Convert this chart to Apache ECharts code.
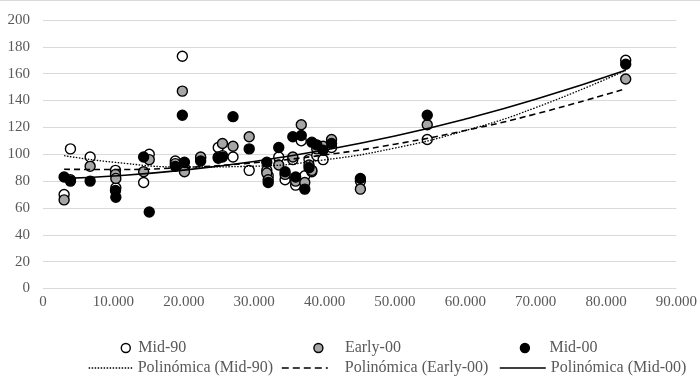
<!DOCTYPE html>
<html>
<head>
<meta charset="utf-8">
<title>Polinómica</title>
<script src="https://cdn.jsdelivr.net/npm/echarts@6/dist/echarts.min.js"></script>
<style>
	html, body { margin: 0; padding: 0; background: #fff; }
	#chart { width: 700px; height: 382px; }
</style>
</head>
<body>
<div id="chart"></div>
<script>
//数据
var xVals = [3000, 3900, 6700, 10300, 10350, 14300, 15100, 18800, 19800, 20100, 22400, 24900, 25500, 27000, 29300, 31800, 32000, 33500, 34400, 35500, 35900, 36700, 37200, 37800, 38200, 38900, 39800, 41000, 45100, 54600, 82800];
var mid90 = [70, 104, 98, 88, 75, 79, 100, 95, 173, 90, 97, 105, 99, 98, 88, 88, 84, 98, 81, 96, 77, 110, 84, 96, 87, 99, 96, 105, 80, 111, 170];
var early00 = [66, 81, 91, 85, 82, 87, 96, 93, 147, 87, 98, 98, 108, 106, 113, 86, 81, 92, 85, 98, 80, 122, 79, 92, 88, 104, 106, 111, 74, 122, 156];
var mid00 = [83, 80, 80, 73, 68, 98, 57, 91, 129, 94, 95, 97, 98, 128, 104, 94, 79, 105, 87, 113, 83, 114, 74, 90, 109, 107, 103, 108, 82, 129, 167];

//趋势线读数
var trendX = [3000, 10000, 20000, 30000, 40000, 50000, 60000, 70000, 82800];
var trendMid90 = [99, 94.1, 90.5, 91.1, 95.8, 104.6, 117.6, 134.7, 162.4];
var trendEarly00 = [88.8, 88.6, 90.1, 93.7, 99.5, 107.5, 117.7, 130, 148.8];
var trendMid00 = [82, 83.8, 88.2, 94.6, 103.1, 113.6, 126.2, 140.9, 162.6];

var names = ['Mid-90', 'Early-00', 'Mid-00', 'Polinómica (Mid-90)', 'Polinómica (Early-00)', 'Polinómica (Mid-00)'];
var txtColor = '#595959';
var font = '"Liberation Serif", "DejaVu Serif", serif';

function pairs(xs, ys) {
	var out = [];
	for (var i = 0; i < xs.length; i++) {
		out.push([xs[i], ys[i]]);
	}
	return out;
}

function fmt(v) {
	return String(v).replace(/\B(?=(\d{3})+(?!\d))/g, '.');
}

function dotSeries(name, data, fill) {
	return {
		name: name,
		type: 'scatter',
		data: pairs(xVals, data),
		symbol: 'circle',
		symbolSize: 10,
		itemStyle: { color: fill, borderColor: '#000', borderWidth: 1.4, opacity: 1 },
		z: 2
	};
}

function trendSeries(name, data, dash, width) {
	return {
		name: name,
		type: 'line',
		data: pairs(trendX, data),
		smooth: true,
		symbol: 'none',
		itemStyle: { color: '#000' },
		lineStyle: { color: '#000', width: width, type: dash },
		z: 3
	};
}

//图例：每项单独定位
function oneLegend(name, left, top, w, pad, extra) {
	var lg = {
		data: [name],
		left: left,
		top: top,
		padding: 0,
		itemWidth: w,
		itemHeight: extra.icon ? 9 : 10,
		textStyle: { color: txtColor, fontFamily: font, fontSize: 16, lineHeight: 16, padding: [0, 0, 0, pad] }
	};
	for (var k in extra) lg[k] = extra[k];
	return lg;
}

var chart = echarts.init(document.getElementById('chart'));
var option = {
	animation: false,
	backgroundColor: '#fff',
	textStyle: { fontFamily: font },
	grid: { left: 43, right: 22, top: 20, bottom: 93.5 },
	xAxis: {
		type: 'value',
		min: 0,
		max: 90000,
		interval: 10000,
		axisLine: { show: false },
		axisTick: { show: false },
		splitLine: { show: false },
		axisLabel: { color: txtColor, fontSize: 15, fontFamily: font, margin: 6, formatter: fmt }
	},
	yAxis: {
		type: 'value',
		min: 0,
		max: 200,
		interval: 20,
		axisLine: { show: false },
		axisTick: { show: false },
		splitLine: { lineStyle: { color: '#d9d9d9', width: 1 } },
		axisLabel: { color: txtColor, fontSize: 15, fontFamily: font, margin: 13 }
	},
	legend: [
		oneLegend(names[0], 120.6, 340, 9, 3, { icon: 'circle', itemStyle: { color: '#fff', borderColor: '#000', borderWidth: 1.4 } }),
		oneLegend(names[1], 313.2, 340, 9, 17, { icon: 'circle', itemStyle: { color: '#a6a6a6', borderColor: '#000', borderWidth: 1.4 } }),
		oneLegend(names[2], 519.7, 340, 9, 15, { icon: 'circle', itemStyle: { color: '#000', borderColor: '#000', borderWidth: 1.4 } }),
		oneLegend(names[3], 88, 360, 44, 0, { itemStyle: { opacity: 0 }, lineStyle: { color: '#000', width: 1.3, type: [1.5, 1.5] } }),
		oneLegend(names[4], 281, 360, 46, 12, { itemStyle: { opacity: 0 }, lineStyle: { color: '#000', width: 1.6, type: [7, 4] } }),
		oneLegend(names[5], 499, 360, 46, 0, { itemStyle: { opacity: 0 }, lineStyle: { color: '#000', width: 1.6, type: 'solid' } })
	],
	graphic: [{
		type: 'line',
		shape: { x1: 0, y1: 0.5, x2: 700, y2: 0.5 },
		style: { stroke: '#d9d9d9', lineWidth: 1 }
	}],
	series: [
		dotSeries(names[0], mid90, '#fff'),
		dotSeries(names[1], early00, '#a6a6a6'),
		dotSeries(names[2], mid00, '#000'),
		trendSeries(names[3], trendMid90, [1.5, 1.5], 1.3),
		trendSeries(names[4], trendEarly00, [6, 4], 1.6),
		trendSeries(names[5], trendMid00, 'solid', 1.6)
	]
};
chart.setOption(option);
</script>
</body>
</html>
